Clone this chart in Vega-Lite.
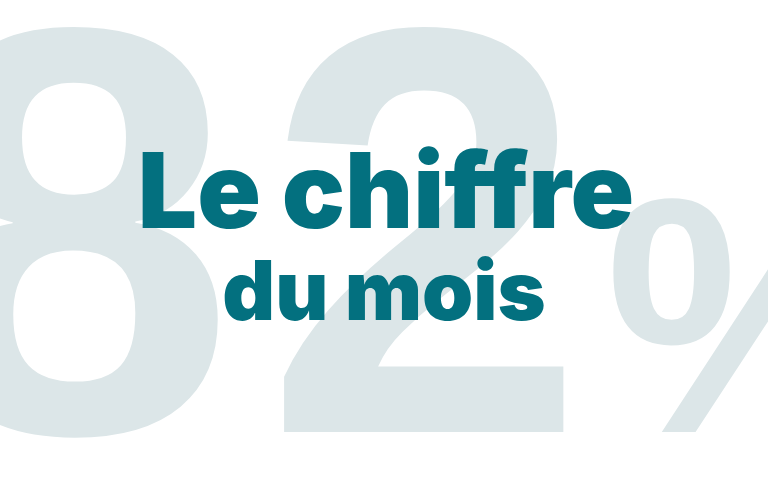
{
  "$schema": "https://vega.github.io/schema/vega-lite/v6.json",
  "description": "Le chiffre du mois - 82%",
  "width": 768,
  "height": 480,
  "autosize": "none",
  "padding": 0,
  "background": "white",
  "config": {"view": {"stroke": null}},
  "data": {
    "values": [
      {"role": "tens", "text": "8"},
      {"role": "units", "text": "2"},
      {"role": "pct", "text": "%"},
      {"role": "title", "text": "Le chiffre"},
      {"role": "sub", "text": "du mois"}
    ]
  },
  "layer": [
    {
      "transform": [{"filter": "datum.role == 'tens'"}],
      "mark": {"type": "text", "font": "Liberation Sans", "fontWeight": "bold", "fontSize": 580, "color": "#dce6e8", "align": "left", "baseline": "alphabetic"},
      "encoding": {
        "x": {"datum": -87, "type": "quantitative", "scale": {"domain": [0, 768], "nice": false, "zero": false}, "axis": null},
        "y": {"datum": 48, "type": "quantitative", "scale": {"domain": [0, 480], "nice": false, "zero": false}, "axis": null},
        "text": {"field": "text"}
      }
    },
    {
      "transform": [{"filter": "datum.role == 'units'"}],
      "mark": {"type": "text", "font": "Liberation Sans", "fontWeight": "bold", "fontSize": 580, "color": "#dce6e8", "align": "left", "baseline": "alphabetic"},
      "encoding": {
        "x": {"datum": 264, "type": "quantitative"},
        "y": {"datum": 48, "type": "quantitative"},
        "text": {"field": "text"}
      }
    },
    {
      "transform": [{"filter": "datum.role == 'pct'"}],
      "mark": {"type": "text", "font": "Liberation Sans", "fontWeight": "bold", "fontSize": 336, "color": "#dce6e8", "align": "left", "baseline": "alphabetic"},
      "encoding": {
        "x": {"datum": 605, "type": "quantitative"},
        "y": {"datum": 48, "type": "quantitative"},
        "text": {"field": "text"}
      }
    },
    {
      "transform": [{"filter": "datum.role == 'title'"}],
      "mark": {"type": "text", "font": "Inter", "fontWeight": 900, "fontSize": 105, "color": "#03707f", "align": "center", "baseline": "alphabetic"},
      "encoding": {
        "x": {"datum": 386, "type": "quantitative"},
        "y": {"datum": 252, "type": "quantitative"},
        "text": {"field": "text"}
      }
    },
    {
      "transform": [{"filter": "datum.role == 'sub'"}],
      "mark": {"type": "text", "font": "Inter", "fontWeight": 900, "fontSize": 82, "color": "#03707f", "align": "center", "baseline": "alphabetic"},
      "encoding": {
        "x": {"datum": 384, "type": "quantitative"},
        "y": {"datum": 160, "type": "quantitative"},
        "text": {"field": "text"}
      }
    }
  ]
}
